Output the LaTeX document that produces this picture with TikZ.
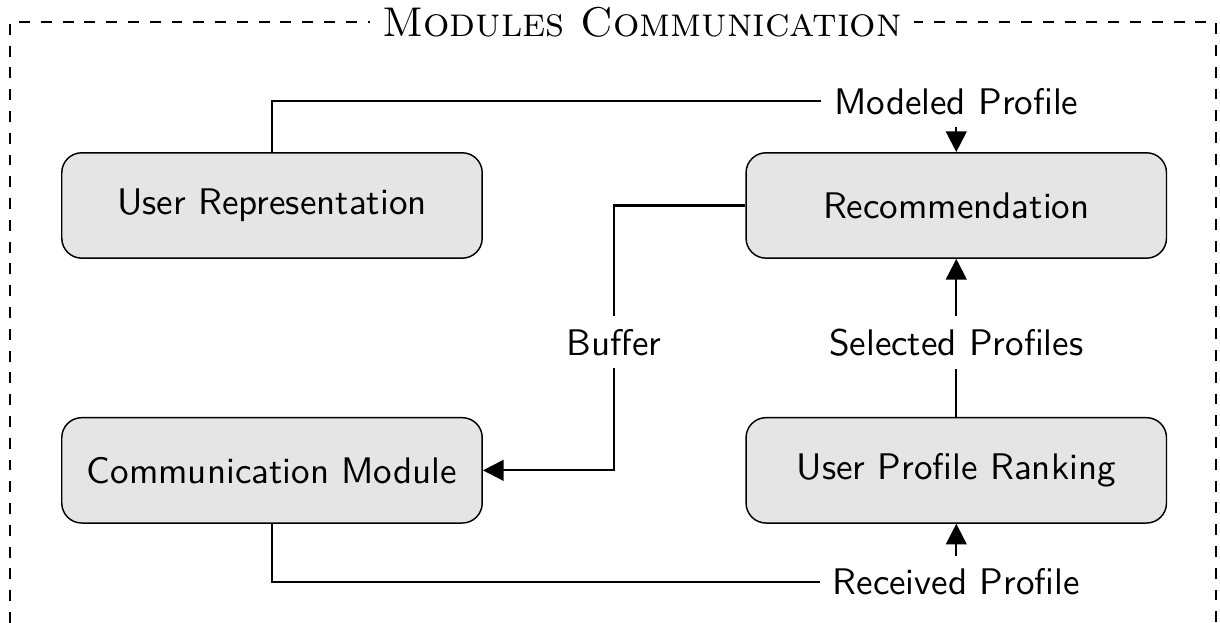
\documentclass[tikz,border=0pt]{standalone}
\usepackage{tikz}
\usetikzlibrary{arrows.meta,positioning}

\begin{document}
\begin{tikzpicture}[
  font=\sffamily\fontsize{10.2pt}{12pt}\selectfont, node distance=1.53cm and 2.54cm,
  module/.style={rectangle, rounded corners=5.5pt, draw=black, fill=black!10, minimum width=4.07cm, minimum height=1.02cm, align=center},
  tag/.style={fill=white},
  link/.style={semithick},
  arr/.style={link, -{Triangle[length=2mm, width=2mm]}}
]
\useasboundingbox (-2.633,-4.041) rectangle (9.177,1.989);
% outer frame, open at the bottom
\draw[dashed] (-2.536,-4.041) -- (-2.536,1.776) -- (9.138,1.776) -- (9.138,-4.041);
\node[fill=white, font=\rmfamily\scshape\fontsize{11.45pt}{13pt}\selectfont] (title) at (3.58,1.776) {Modules Communication};

\node[module] (rep) {User Representation};
\node[module, right=of rep] (rec) {Recommendation};
\node[module, below=of rep] (com) {Communication Module};
\node[module, below=of rec] (rank) {User Profile Ranking};

\node[tag, above=0.24cm of rec] (modeled) {Modeled Profile};
\node[tag, below=0.55cm of rec] (selected) {Selected Profiles};
\node[tag, below=0.31cm of rank] (received) {Received Profile};
\path (rep.east) -- (rec.west) coordinate[midway] (mid);
\node[tag] (buffer) at (mid |- selected) {Buffer};

\draw[link] (rep.north) |- (modeled.west); \draw[arr] (modeled) -- (rec);
\draw[link] (rank) -- (selected); \draw[arr] (selected) -- (rec);
\draw[link] (com.south) |- (received.west); \draw[arr] (received) -- (rank);
\draw[link] (rec.west) -| (buffer); \draw[arr] (buffer) |- (com.east);
\end{tikzpicture}
\end{document}
